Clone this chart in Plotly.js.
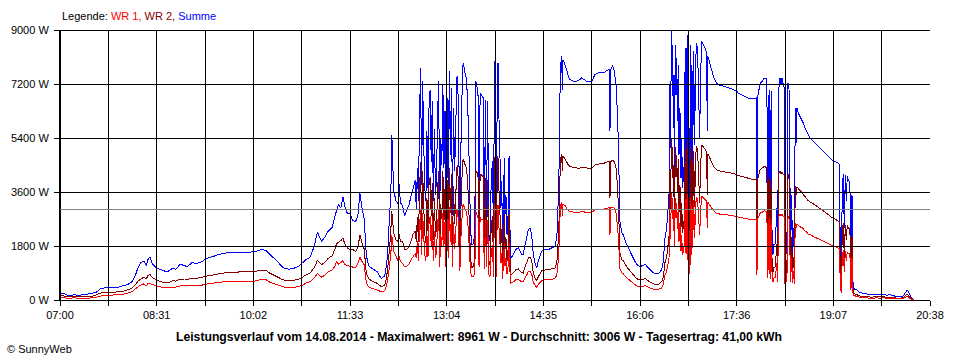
<!DOCTYPE html>
<html><head><meta charset="utf-8">
<script src="https://cdn.plot.ly/plotly-3.0.1.min.js"></script>
<style>html,body{margin:0;padding:0;background:#fff}#chart{width:960px;height:360px}
#chart .scatterlayer path, #chart .shapelayer path, #chart .xlines-above, #chart .ylines-above { shape-rendering: crispEdges; }
</style>
</head><body><div id="chart"></div>
<script>
// Minutes after 07:00 on 14.08.2014
const timeMin = [
0,4,8,13,19,24,30,34,38,43,
49,55,60,64,68,71,73,76,79,81,
83,85,86,89,92,96,100,103,106,109,
113,117,120,124,129,134,138,143,148,152,
158,165,174,183,190,194,197,201,205,209,
212,216,220,224,228,231,235,239,242,244,
246,249,252,256,259,260,262,264,266,268,
270,273,275,278,280,282,284,286,288,290,
293,298,302,305,306,308,309,310,311,312,
313,314,316,318,319,320,322,324,326,328,
330,332,334,335,336,
337,338,339,340,341,342,343,344,345,346,
347,348,349,350,351,352,353,354,355,356,
357,358,359,360,361,362,363,364,365,366,
367,368,369,370,371,372,373,374,375,376,
377,378,379,380,381,382,383,384,385,386,
387,388,389,390,391,392,393,394,395,396,
397,398,399,400,401,402,
403.4,404.3,405.2,406.5,407.7,408.4,409.3,410.3,411.2,412.1,
412.8,413.7,414.6,415.3,416.2,417.2,417.8,418.4,419.3,420.3,
421.5,422.2,422.8,423.4,424.0,426.2,428.4,430.9,432.5,434.1,
435.6,437.2,438.8,440.3,441.9,443.5,445.0,446.6,448.2,449.7,
451.3,452.9,456.0,459.1,462.3,465.4,467.0,467.9,468.5,469.2,
470.1,471.1,471.7,472.3,472.9,474.8,476.4,477.9,479.5,482.7,
485.8,488.9,490.5,495.2,499.9,503.0,506.2,510.9,514.0,515.6,
516.8,517.1,517.8,519.6,521.2,522.8,523.7,525.0,525.9,526.5,
527.5,528.7,
529.6,532.8,535.9,539.0,542.2,545.3,548.4,550.0,553.1,556.3,
559.4,562.5,565.7,567.2,568.8,570.4,571.3,572.6,573.5,574.1,
574.8,575.4,576.0,576.6,577.3,577.9,578.5,579.2,579.8,580.4,
581.3,582.0,582.9,583.9,584.5,585.4,586.7,587.9,588.6,589.2,
589.8,590.4,591.1,591.7,592.3,592.9,593.6,594.2,594.8,595.8,
596.7,597.6,598.6,599.5,600.5,601.4,602.3,603.3,604.2,605.5,
606.4,607.4,608.0,608.6,609.2,610.5,611.7,613.0,614.3,615.8,
617.4,619.0,622.1,626.8,631.5,636.2,
637.7,640.9,644.0,647.1,650.3,653.4,654.7,655.3,655.9,657.2,
658.4,660.3,662.2,664.1,665.0,665.6,666.3,666.9,667.5,668.1,
668.8,669.4,670.3,671.3,672.2,672.8,673.8,674.7,675.7,676.3,
676.9,677.9,678.8,680.0,681.0,681.6,682.6,683.5,684.4,685.4,
686.3,686.9,687.9,688.8,689.8,690.4,691.3,692.0,692.9,694.1,
695.7,697.3,698.8,700.4,702.0,703.5,705.1,706.7,709.8,713.0,
716.1,719.2,722.4,725.5,728.6,731.8,733.0,733.6,734.6,735.5,
736.5,737.4,738.4,739.3,740.2,741.2,742.1,743.0,743.7,744.3,
744.9,745.5,746.2,747.4,
749.1,752.2,755.3,758.5,761.6,764.7,767.9,771.0,774.1,777.3,
780.4,783.5,786.7,789.8,793.0,794.5,796.1,797.0,798.3,799.8,
801.4,802.4
];

// Summe (W)
const summe = [
220,210,150,170,160,190,220,260,370,410,
420,430,480,520,620,830,1050,1250,1290,1150,
1380,1420,1250,1120,1040,1000,940,980,1060,1020,
1200,1140,1120,1240,1220,1290,1390,1440,1500,1540,
1580,1590,1580,1610,1690,1640,1530,1400,1260,1100,
1040,1030,1060,1110,1240,1340,1420,1780,2270,2100,
1950,2100,2280,2420,2850,2980,3200,3060,3430,3100,
2900,2880,2640,2620,2800,3560,3050,2700,1500,1150,
1060,950,720,800,900,1500,2200,2950,3400,5500,
4400,3600,3300,3200,3850,3250,3150,2800,3000,3150,
3450,3700,4000,3000,4400,
3290,6000,7730,3845,7290,5200,3700,3290,5630,3730,
6510,7010,4600,6620,3300,5700,3500,4000,6180,7290,
2850,5400,4500,7180,4400,6290,2400,6730,3500,7620,
4850,7070,2850,6400,4290,5500,7400,7460,4850,2510,
5180,6850,7900,7730,7510,7400,6850,5730,4070,2400,
1850,1850,1900,2400,7290,7120,6950,2740,6900,6850,
6800,6730,2620,6680,2730,6620,
2070,1957,3623,4623,1957,7956,3845,1957,7900,7900,
5955,4730,3067,3955,1735,3734,4730,2845,3512,2179,
2956,4790,2845,1846,1400,1510,1680,1735,1623,1512,
1512,1846,2068,2346,2401,2179,1512,1234,1068,1290,
1457,1623,1679,1679,1735,1790,2068,2512,3512,4400,
6845,7956,8123,7011,8011,7845,7678,7456,7345,7289,
7289,7345,7400,7289,7289,7511,7567,7567,7645,7678,
7678,5623,7678,7823,7623,7178,6512,5290,3623,2623,
2401,2179,
2179,1846,1623,1401,1179,1123,1145,1201,1068,957,
868,868,1012,1290,2068,2401,2845,3512,7178,5067,
8961,7400,8512,5734,7511,4400,8512,6845,8067,5956,
7845,4845,6400,4067,5400,3734,4400,8400,3845,8400,
3290,8845,3734,5734,2179,8512,3734,7845,4289,8289,
5178,7956,8567,8289,6845,5400,7400,8623,8567,8456,
8400,8289,7956,5620,8123,7956,7789,7623,7456,7345,
7234,7178,7145,7089,7045,6956,
6900,6845,6789,6734,6712,6712,6734,2179,6734,7011,
7234,7289,7400,7400,6067,1846,6845,2179,7011,1735,
6956,2401,1512,1846,1846,1957,3067,1512,6845,7289,
7400,7178,7400,7178,7067,1290,1512,1846,7234,7178,
4067,1512,3512,1401,2401,1290,6400,5200,6400,6234,
6123,6012,5901,5734,5623,5512,5400,5345,5234,5123,
5012,4901,4790,4679,4623,4567,4512,1290,600,3734,
4212,2401,4178,3290,4123,4012,3956,3512,845,3512,
3444,623,401,345,
333,245,222,200,167,178,189,167,189,156,
178,145,111,111,133,222,311,333,222,111,
33,0
];

// WR 2 (W)
const wr2 = [
150,130,110,110,100,110,120,170,230,250,
260,270,300,340,400,510,620,700,760,700,
830,840,780,700,640,600,580,590,640,630,
700,700,690,730,730,760,800,830,860,890,
920,930,940,950,1000,980,900,830,760,680,
650,650,660,680,760,830,900,1070,1320,1250,
1180,1250,1380,1480,1750,1880,1920,1980,2060,1850,
1750,1650,1690,1620,1750,2160,1900,1700,900,720,
640,560,450,480,560,1000,1400,1800,2300,2950,
2550,2200,2000,1950,2200,1950,1950,1700,1700,1750,
1950,2200,2300,1950,2780,
1950,3600,4600,2300,4300,3100,2200,1900,3400,2300,
3900,4100,2800,3900,2000,3400,2100,2400,3700,4290,
1700,3200,2700,4290,2600,3700,1290,4000,2100,4400,
2900,4200,1700,3800,2550,3300,4400,4500,2900,1300,
3100,4100,4700,4600,4500,4400,4100,3400,2400,1400,
1100,1100,1130,1450,4300,4250,4200,1600,4200,4180,
4150,4100,1500,4050,1600,4000,
1250,1180,2200,2800,1180,4750,2300,1180,4800,4700,
3600,2850,1850,2380,1050,2250,2850,1700,2100,1310,
1780,2880,1700,1110,850,900,1000,1040,970,910,
900,1110,1240,1400,1440,1300,910,740,640,770,
870,970,1000,1010,1040,1070,1240,1500,2100,2650,
4100,4800,4850,4300,4800,4700,4600,4500,4450,4420,
4400,4400,4420,4400,4400,4500,4530,4550,4600,4620,
4620,3400,4620,4650,4620,4400,4000,3200,2200,1580,
1440,1300,
1310,1110,970,840,710,670,690,720,640,570,
520,520,610,770,1240,1440,1700,2100,4300,3040,
5400,4450,5100,3450,4500,2640,5100,4100,4840,3570,
4700,2900,3840,2440,3240,2240,2640,5040,2300,5040,
1970,5310,2240,3440,1310,5100,2240,4700,2570,4970,
3110,4770,5140,4970,4100,3240,4440,5170,5140,5070,
5040,4970,4770,3500,4870,4770,4670,4570,4470,4400,
4340,4310,4290,4250,4230,4180,
4150,4120,4090,4060,4030,4010,4020,1330,4020,4200,
4350,4400,4450,4420,3700,1100,4000,1300,4100,1050,
4000,1440,900,1100,1100,1170,1850,900,4150,4300,
4300,4200,4250,4200,4150,770,900,1100,4200,4100,
2440,900,2100,840,1440,770,3800,3500,3780,3720,
3650,3600,3512,3450,3380,3312,3270,3234,3170,3090,
3010,2934,2845,2756,2700,2623,2600,800,380,2300,
2560,1450,2500,2000,2480,2400,2380,2100,500,2100,
2050,380,230,200,
180,130,120,110,100,100,110,100,110,90,
100,80,60,60,80,130,180,190,130,60,
20,0
];

// WR 1 (W)
const wr1 = [
80,70,60,70,60,60,70,90,130,150,
160,190,200,230,280,380,430,500,540,470,
560,540,520,490,450,430,400,410,430,430,
470,470,470,500,500,500,530,560,580,600,
610,620,630,630,690,670,600,550,500,450,
410,400,420,450,490,560,610,730,880,810,
760,830,930,1000,1150,1290,1180,1250,1310,1180,
1150,1120,1100,1080,1200,1420,1280,1180,580,450,
390,330,280,300,360,650,900,1200,1500,2170,
1850,1600,1450,1300,1450,1280,1230,1110,1110,1200,
1330,1450,1550,1400,1950,
1300,2400,3000,1500,2900,2100,1500,1300,2200,1450,
2600,2800,1800,2700,1300,2300,1400,1600,2500,3000,
1100,2200,1800,2900,1800,2600,1000,2700,1400,3100,
1950,2850,1100,2600,1700,2200,3000,3000,1950,970,
2100,2750,3200,3100,3000,2950,2750,2300,1600,950,
790,790,800,950,2950,2850,2780,1100,2750,2700,
2680,2650,1050,2680,1100,2650,
820,780,1430,1830,780,3200,1540,780,3150,3150,
2380,1880,1220,1580,690,1490,1880,1140,1400,870,
1180,1910,1140,740,560,600,670,690,650,600,
610,740,830,940,960,870,600,490,430,520,
580,650,670,670,690,720,830,1000,1400,1760,
2750,3200,3250,2800,3200,3150,3050,2980,2950,2930,
2920,2930,2950,2920,2920,3000,3020,3030,3060,3070,
3070,2180,3070,3100,3060,2900,2600,2100,1450,1050,
960,870,
870,740,650,560,470,450,460,480,430,380,
350,350,400,520,830,960,1140,1400,2880,2030,
3560,2950,3400,2290,3000,1760,3400,2750,3230,2380,
3140,1940,2560,1630,2160,1490,1760,3360,1540,3360,
1320,3540,1490,2290,870,3400,1490,3140,1720,3320,
2070,3180,3430,3320,2740,2160,2960,3450,3430,3380,
3360,3320,3180,2400,3250,3180,3120,3050,2980,2940,
2890,2870,2860,2840,2820,2780,
2760,2740,2720,2700,2690,2680,2690,850,2690,2800,
2900,2930,2970,2960,2400,750,2650,880,2750,700,
2700,960,600,740,740,790,1220,600,2750,2850,
2850,2800,2850,2800,2780,520,600,740,2780,2750,
1630,600,1400,560,960,520,2560,2400,2540,2500,
2440,2420,2380,2300,2260,2200,2180,2150,2090,2040,
1990,1940,1880,1830,1780,1730,1700,480,230,1450,
1650,950,1620,1300,1600,1550,1540,1380,330,1380,
1350,240,160,140,
120,90,80,70,60,60,70,60,70,60,
60,50,40,40,50,80,120,130,80,40,
10,0
];

const xTickLabels = ['07:00','08:31','10:02','11:33','13:04','14:35','16:06','17:36','19:07','20:38'];
const xRangeMin = [0, 818];          // 07:00 .. 20:38
const yTickValues = [0, 1800, 3600, 5400, 7200, 9000];
const yTickLabels = ['0 W', '1800 W', '3600 W', '5400 W', '7200 W', '9000 W'];
const averageW = 3006;
const seriesNames = ['WR 1', 'WR 2', 'Summe'];
const seriesColors = ['#ff0000', '#800000', '#0000ff'];
const footerText = 'Leistungsverlauf vom 14.08.2014 - Maximalwert: 8961 W - Durchschnitt: 3006 W - Tagesertrag: 41,00 kWh';

const nSteps = 18;
const xTickVals = [], xTickText = [];
for (let i = 0; i <= nSteps; i++) {
  xTickVals.push(xRangeMin[0] + i * (xRangeMin[1] - xRangeMin[0]) / nSteps);
  xTickText.push(i % 2 === 0 ? xTickLabels[i / 2] : '');
}

const shapes = [];
xTickVals.forEach(v => shapes.push({type:'line', xref:'x', yref:'paper', x0:v, x1:v, y0:0, y1:1,
  line:{color:'#000', width:1}, layer:'above'}));
yTickValues.forEach(v => shapes.push({type:'line', xref:'paper', yref:'y', x0:0, x1:1, y0:v, y1:v,
  line:{color:'#000', width:1}, layer:'above'}));
shapes.push({type:'line', xref:'paper', yref:'y', x0:0, x1:1, y0:averageW, y1:averageW,
  line:{color:'#808080', width:1}, layer:'above'});

function mk(y, idx) {
  return {x: timeMin, y: y, type:'scatter', mode:'lines', name: seriesNames[idx],
    line:{color: seriesColors[idx], width:1, simplify:false}, hoverinfo:'skip'};
}
const traces = [mk(summe, 2), mk(wr2, 1), mk(wr1, 0)];

const font = 'Liberation Sans, Arial, sans-serif';
const layout = {
  width: 960, height: 360,
  margin: {l:60, r:30, t:30, b:60, pad:0},
  paper_bgcolor:'#fff', plot_bgcolor:'#fff',
  font:{family:font, size:11, color:'#000'},
  showlegend:false,
  xaxis:{range:xRangeMin, tickmode:'array', tickvals:xTickVals, ticktext:xTickText,
    ticks:'outside', ticklen:5, tickcolor:'#000', tickwidth:1, showgrid:false, zeroline:false,
    showline:true, linecolor:'#000', linewidth:1, tickfont:{family:font, size:11, color:'#000'}},
  yaxis:{range:[0, 9000], tickmode:'array', tickvals:yTickValues, ticktext:yTickLabels,
    ticks:'outside', ticklen:5, tickcolor:'#000', tickwidth:1, showgrid:false, zeroline:false,
    ticklabelstandoff:3,
    showline:true, linecolor:'#000', linewidth:1, tickfont:{family:font, size:11, color:'#000'}},
  shapes: shapes,
  annotations:[
    {xref:'paper', yref:'paper', x:0, y:1, xanchor:'left', yanchor:'middle', yshift:14, showarrow:false,
     text:'Legende: <span style="color:'+seriesColors[0]+'">'+seriesNames[0]+',</span> <span style="color:'+seriesColors[1]+'">'+seriesNames[1]+',</span> <span style="color:'+seriesColors[2]+'">'+seriesNames[2]+'</span>',
     font:{family:font, size:11, color:'#000'}},
    {xref:'paper', yref:'paper', x:0.482, y:0, xanchor:'center', yanchor:'middle', yshift:-37, showarrow:false,
     text:'<b>'+footerText+'</b>', font:{family:font, size:12.2, color:'#000'}},
    {xref:'paper', yref:'paper', x:-55/870, y:0, xanchor:'left', yanchor:'middle', yshift:-49, showarrow:false,
     text:'© SunnyWeb', font:{family:font, size:11, color:'#000'}}
  ]
};
Plotly.newPlot('chart', traces, layout, {staticPlot:true, displayModeBar:false});
</script>
</body></html>
